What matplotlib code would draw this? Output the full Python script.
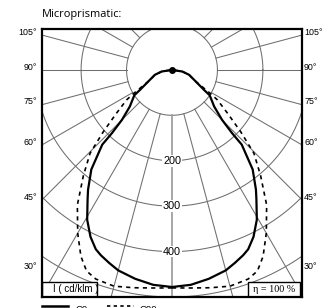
import numpy as np
import matplotlib.pyplot as plt
from matplotlib.patches import Rectangle
from matplotlib.lines import Line2D
import matplotlib.transforms as mtransforms

# values (cd/klm, angle from nadir in degrees)
title = "Microprismatic:"
c0_angles = [0, 5, 10, 15, 18, 21, 23, 26, 29.5, 33, 35, 39, 43, 43.5, 45, 49, 56, 58, 64, 74, 81, 90]
c0_values = [478, 475, 467, 457, 447, 437, 429, 409, 379, 341, 322, 282, 225, 192, 156, 123, 100, 83, 58, 39, 23, 0]
c90_angles = [0, 5, 10, 15, 20, 23, 26, 30, 35, 40, 44.5, 48, 52, 56.5, 58.5, 64, 74, 81, 90]
c90_values = [480, 482, 487, 493, 490, 481, 457, 415, 363, 303, 257, 203, 155, 120, 98, 58, 39, 23, 0]
rings = [100, 200, 300, 400, 500]
ring_labels = [200, 300, 400]
side_labels = [105, 90, 75, 60, 45, 30]
unit_label = "I ( cd/klm )"
eff_label = "η = 100 %"
series_names = ["C0", "C90"]

W, H = 331, 308
fig = plt.figure(figsize=(W / 100, H / 100), dpi=100)
ax = fig.add_axes([42 / W, 11 / H, 260 / W, 268 / H])
XMAX = 286
ax.set_xlim(-XMAX, XMAX)
ax.set_ylim(-500, 90)
ax.set_xticks([])
ax.set_yticks([])
for s in ax.spines.values():
    s.set_linewidth(1.6)
    s.set_zorder(10)

grid = "#6e6e6e"
t = np.linspace(0, 2 * np.pi, 400)
for r in rings:
    ax.plot(r * np.cos(t), r * np.sin(t), color=grid, lw=0.75, zorder=1)

for a in range(-165, 181, 15):
    rad = np.radians(a)
    dx, dy = np.sin(rad), -np.cos(rad)
    if a == 0:
        ax.plot([100 * dx, 700 * dx], [100 * dy, 700 * dy], color="#a0a0a0", lw=1.3, zorder=1)
    else:
        ax.plot([100 * dx, 700 * dx], [100 * dy, 700 * dy], color=grid, lw=0.75, zorder=1)

for v in ring_labels:
    ax.text(0, -v, str(v), ha="center", va="center", fontsize=7.8,
            family="Liberation Sans", zorder=3,
            bbox=dict(facecolor="white", edgecolor="none", pad=0.6))


def polar_xy(ang, vals, side):
    th = np.radians(np.asarray(ang, dtype=float))
    v = np.asarray(vals, dtype=float)
    return side * v * np.sin(th), -v * np.cos(th)


for side in (-1, 1):
    x, y = polar_xy(c90_angles, c90_values, side)
    ax.plot(x, y, color="black", lw=1.2, ls=(0, (2.5, 2.5)), zorder=4)
    x, y = polar_xy(c0_angles, c0_values, side)
    ax.plot(x, y, color="black", lw=1.6, zorder=5, solid_joinstyle="round")
ax.plot([0], [0], "o", color="black", ms=4, zorder=6)

# angle labels on both sides
trans_l = mtransforms.blended_transform_factory(ax.transAxes, ax.transData)
for a in side_labels:
    rad = np.radians(a)
    yl = -XMAX * np.cos(rad) / np.sin(rad) + 6
    yl = max(yl, -433)
    ax.text(-0.02, yl, f"{a}°", transform=trans_l, ha="right", va="center",
            fontsize=6.4, family="Liberation Sans")
    ax.text(1.008, yl, f"{a}°", transform=trans_l, ha="left", va="center",
            fontsize=6.4, family="Liberation Sans")

# boxes at the bottom
ax.add_patch(Rectangle((0, 0), 55 / 260, 15 / 268, transform=ax.transAxes,
                       facecolor="white", edgecolor="black", lw=1.0, zorder=8))
ax.text(11 / 260, 7.5 / 268, unit_label, transform=ax.transAxes, ha="left", va="center",
        fontsize=7.0, family="Liberation Sans", zorder=9)
ax.add_patch(Rectangle((205.7 / 260, 0), 52.3 / 260, 15 / 268, transform=ax.transAxes,
                       facecolor="white", edgecolor="black", lw=1.0, zorder=8))
ax.text(231.8 / 260, 8 / 268, eff_label, transform=ax.transAxes, ha="center", va="center",
        fontsize=7.3, family="Liberation Serif", zorder=9)

fig.text(42 / W, 1 - 15 / H, title, ha="left", va="center", fontsize=7.9, family="Open Sans")

# legend, cut off by the bottom edge
ly = 1 - 306 / H
fig.add_artist(Line2D([42 / W, 68 / W], [ly, ly], color="black", lw=1.8, transform=fig.transFigure))
fig.text(75 / W, 1 - 309 / H, series_names[0], ha="left", va="center", fontsize=6.8, family="Liberation Sans")
fig.add_artist(Line2D([107 / W, 134 / W], [ly, ly], color="black", lw=1.2, ls=(0, (2, 2)),
                      transform=fig.transFigure))
fig.text(140 / W, 1 - 309 / H, series_names[1], ha="left", va="center", fontsize=6.8, family="Liberation Sans")

fig.savefig("out.png", dpi=100)
